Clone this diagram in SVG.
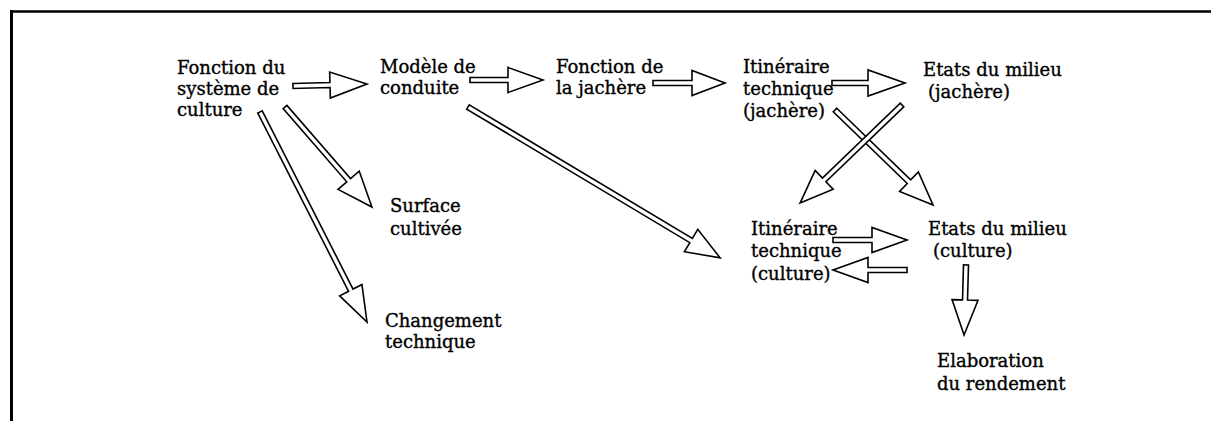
<svg xmlns="http://www.w3.org/2000/svg" width="1211" height="421" viewBox="0 0 1211 421">
<style>
.t{font-family:"DejaVu Serif","Liberation Serif",serif;font-size:18px;fill:#000;stroke:#000;stroke-width:0.35}
.a{fill:#fff;stroke:#000;stroke-width:1.6;stroke-linejoin:miter}
.f{stroke:#000;fill:none}
</style>
<rect width="1211" height="421" fill="#fff"/>
<g id="frame">
<line class="f" x1="10" y1="11.5" x2="1211" y2="11.5" stroke-width="2.5"/>
<line class="f" x1="11.5" y1="10" x2="11.5" y2="421" stroke-width="3"/>
</g>
<g id="connectors">
<path class="a" transform="translate(293,86) rotate(-1.5)" d="M0,-2.5 H37 V-13 L74,0 L37,13 V2.5 H0 Z"/>
<path class="a" transform="translate(470,80)" d="M0,-2.5 H38 V-12.5 L73,0 L38,12.5 V2.5 H0 Z"/>
<path class="a" transform="translate(653,83)" d="M0,-2.5 H39 V-12.5 L72,0 L39,12.5 V2.5 H0 Z"/>
<path class="a" transform="translate(832,83)" d="M0,-2.5 H36 V-13 L73,0 L36,13 V2.5 H0 Z"/>
<path class="a" transform="translate(835,110) rotate(44.1)" d="M0,-2.5 H103 V-13.5 L136.5,0 L103,13.5 V2.5 H0 Z"/>
<path class="a" transform="translate(902,105) rotate(136.1)" d="M0,-2.5 H108 V-13 L141.4,0 L108,13 V2.5 H0 Z"/>
<path class="a" transform="translate(468,107) rotate(30.9)" d="M0,-2.5 H260 V-13 L293.8,0 L260,13 V2.5 H0 Z"/>
<path class="a" transform="translate(285,107) rotate(49)" d="M0,-2.5 H97 V-14 L132.5,0 L97,14 V2.5 H0 Z"/>
<path class="a" transform="translate(260,112) rotate(63)" d="M0,-2.5 H200 V-12.5 L235.7,0 L200,12.5 V2.5 H0 Z"/>
<path class="a" transform="translate(833,240)" d="M0,-2.5 H39 V-12.5 L74,0 L39,12.5 V2.5 H0 Z"/>
<path class="a" transform="translate(907,270) rotate(180)" d="M0,-2.5 H39 V-12.5 L74,0 L39,12.5 V2.5 H0 Z"/>
<path class="a" transform="translate(966,265) rotate(91.6)" d="M0,-2.5 H35 V-13 L70,0 L35,13 V2.5 H0 Z"/>
</g>
<g id="n1"><text class="t" x="177" y="74">Fonction du</text><text class="t" x="177" y="95">système de</text><text class="t" x="177" y="116">culture</text></g>
<g id="n2"><text class="t" x="380" y="73">Modèle de</text><text class="t" x="380" y="94">conduite</text></g>
<g id="n3"><text class="t" x="556" y="73">Fonction de</text><text class="t" x="556" y="94">la jachère</text></g>
<g id="n4"><text class="t" x="743" y="73">Itinéraire</text><text class="t" x="743" y="95">technique</text><text class="t" x="743" y="117">(jachère)</text></g>
<g id="n5"><text class="t" x="923" y="76">Etats du milieu</text><text class="t" x="928" y="98">(jachère)</text></g>
<g id="n6"><text class="t" x="390" y="212">Surface</text><text class="t" x="390" y="235">cultivée</text></g>
<g id="n7"><text class="t" x="385" y="327">Changement</text><text class="t" x="385" y="348">technique</text></g>
<g id="n8"><text class="t" x="751" y="235">Itinéraire</text><text class="t" x="751" y="257">technique</text><text class="t" x="751" y="280">(culture)</text></g>
<g id="n9"><text class="t" x="928" y="235">Etats du milieu</text><text class="t" x="933" y="257">(culture)</text></g>
<g id="n10"><text class="t" x="937" y="367">Elaboration</text><text class="t" x="937" y="390">du rendement</text></g>
</svg>
